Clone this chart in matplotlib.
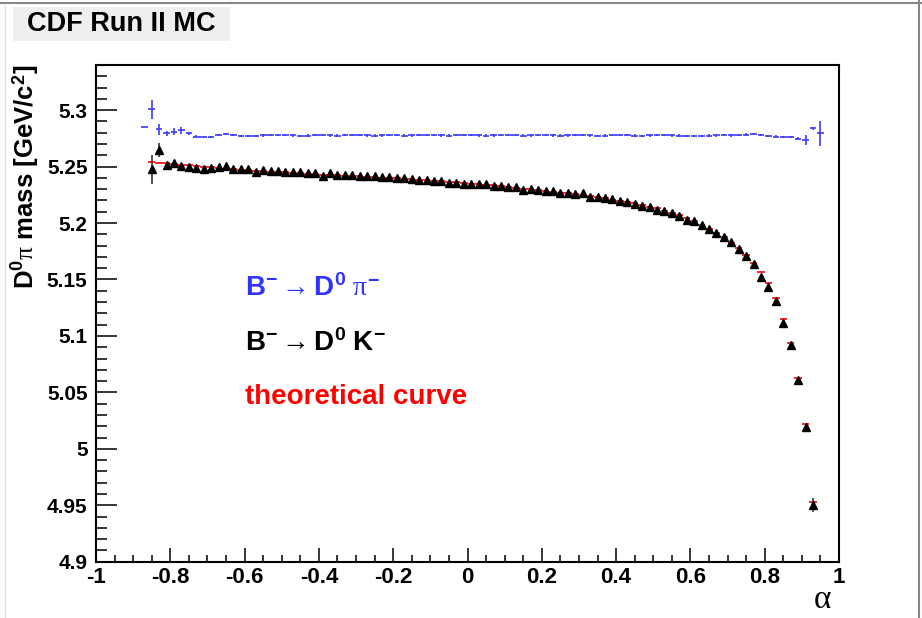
import numpy as np
import matplotlib
matplotlib.use('Agg')
import matplotlib.pyplot as plt
from matplotlib.ticker import MultipleLocator
from matplotlib.patches import Rectangle
from matplotlib.lines import Line2D

plt.rcParams['font.family'] = ['Liberation Sans', 'DejaVu Sans']
plt.rcParams['mathtext.fontset'] = 'custom'
plt.rcParams['mathtext.rm'] = 'Liberation Sans:bold'
plt.rcParams['mathtext.bf'] = 'Liberation Sans:bold'
plt.rcParams['mathtext.it'] = 'Liberation Serif'

# B -> D0 pi (blue), bins of 0.02 starting at -0.87
pi_start = -0.87
pi_mass = [5.2852, 5.3006, 5.2829, 5.2794, 5.2808, 5.2823, 5.2794, 5.2766, 5.2760, 5.2764,
           5.2780, 5.2790, 5.2782, 5.2772, 5.2772, 5.2773, 5.2776, 5.2778, 5.2780, 5.2779,
           5.2776, 5.2774, 5.2775, 5.2777, 5.2778, 5.2776, 5.2775, 5.2777, 5.2779, 5.2778,
           5.2776, 5.2775, 5.2776, 5.2778, 5.2777, 5.2775, 5.2776, 5.2778, 5.2779, 5.2777,
           5.2776, 5.2775, 5.2777, 5.2778, 5.2777, 5.2776, 5.2775, 5.2776, 5.2778, 5.2779,
           5.2777, 5.2775, 5.2776, 5.2777, 5.2778, 5.2776, 5.2775, 5.2776, 5.2777, 5.2778,
           5.2776, 5.2774, 5.2775, 5.2777, 5.2778, 5.2777, 5.2775, 5.2774, 5.2776, 5.2778,
           5.2777, 5.2776, 5.2775, 5.2774, 5.2773, 5.2774, 5.2775, 5.2776, 5.2778, 5.2776,
           5.2778, 5.2784, 5.2787, 5.2778, 5.2770, 5.2766, 5.2765, 5.2764, 5.2749, 5.2734,
           5.2838, 5.2794]
pi_err = [0.0, 0.0084, 0.0045, 0.002, 0.003, 0.003, 0.0015] + [0.001] * 82 + [0.0044, 0.0015, 0.0108]

# B -> D0 K (black), bins of 0.02 starting at -0.85
k_start = -0.85
k_mass = [5.2475, 5.2646, 5.2513, 5.2528, 5.2507, 5.2498, 5.2492, 5.2483, 5.2492, 5.2498,
          5.2507, 5.2483, 5.2483, 5.2483, 5.2454, 5.2469, 5.2460, 5.2460, 5.2450, 5.2448,
          5.2448, 5.2439, 5.2445, 5.2415, 5.2439, 5.2424, 5.2424, 5.2424, 5.2418, 5.2418,
          5.2415, 5.2409, 5.2409, 5.2401, 5.2395, 5.2386, 5.2380, 5.2380, 5.2371, 5.2371,
          5.2356, 5.2356, 5.2350, 5.2347, 5.2344, 5.2342, 5.2330, 5.2330, 5.2321, 5.2315,
          5.2297, 5.2300, 5.2297, 5.2285, 5.2283, 5.2268, 5.2268, 5.2256, 5.2262, 5.2233,
          5.2227, 5.2224, 5.2209, 5.2197, 5.2188, 5.2173, 5.2149, 5.2144, 5.2114, 5.2105,
          5.2085, 5.2061, 5.2031, 5.2017, 5.1981, 5.1944, 5.1908, 5.1872, 5.1831, 5.1769,
          5.1709, 5.1636, 5.1518, 5.1435, 5.1311, 5.1116, 5.0919, 5.0609, 5.0195, 4.9501]
k_err = [0.0127, 0.006] + [0.001] * 87 + [0.006]

# theoretical curve (red), same bins as black
theory = [5.2542, 5.2535, 5.2528, 5.2522, 5.2516, 5.2510, 5.2504, 5.2498, 5.2493, 5.2488,
          5.2483, 5.2478, 5.2473, 5.2468, 5.2464, 5.2460, 5.2456, 5.2452, 5.2448, 5.2444,
          5.2440, 5.2437, 5.2433, 5.2430, 5.2426, 5.2423, 5.2420, 5.2416, 5.2413, 5.2410,
          5.2406, 5.2403, 5.2399, 5.2396, 5.2392, 5.2388, 5.2384, 5.2380, 5.2376, 5.2372,
          5.2367, 5.2362, 5.2357, 5.2350, 5.2345, 5.2339, 5.2333, 5.2327, 5.2320, 5.2313,
          5.2306, 5.2300, 5.2293, 5.2286, 5.2278, 5.2270, 5.2262, 5.2254, 5.2245, 5.2236,
          5.2227, 5.2218, 5.2208, 5.2197, 5.2186, 5.2174, 5.2160, 5.2145, 5.2129, 5.2110,
          5.2090, 5.2067, 5.2042, 5.2014, 5.1983, 5.1949, 5.1912, 5.1872, 5.1827, 5.1776,
          5.1717, 5.1650, 5.1570, 5.1470, 5.1340, 5.1150, 5.0935, 5.0630, 5.0220, 4.9530]

bin_w = 0.02
x_pi = np.round(pi_start + bin_w * np.arange(len(pi_mass)), 2)
x_k = np.round(k_start + bin_w * np.arange(len(k_mass)), 2)

fig = plt.figure(figsize=(9.22, 6.18), dpi=100)
ax = fig.add_axes([0.1041, 0.0911, 0.8059, 0.8037])

ax.errorbar(x_k, theory, xerr=bin_w / 2, fmt='none', ecolor='#ff0000', elinewidth=1.2, zorder=2)
ax.errorbar(x_pi, pi_mass, xerr=0.009, yerr=pi_err, fmt='none', ecolor='#3b3bff',
            elinewidth=1.2, zorder=3)
ax.errorbar(x_k, k_mass, yerr=k_err, fmt='^', color='black', ms=6, ecolor='#333333',
            elinewidth=1.2, zorder=4)

ax.set_xlim(-1, 1)
ax.set_ylim(4.9, 5.34)
ax.xaxis.set_major_locator(MultipleLocator(0.2))
ax.xaxis.set_minor_locator(MultipleLocator(0.05))
ax.yaxis.set_major_locator(MultipleLocator(0.05))
ax.yaxis.set_minor_locator(MultipleLocator(0.01))
ax.tick_params(axis='both', which='both', direction='in', top=False, right=False)
ax.tick_params(axis='y', which='major', length=15, width=1.1)
ax.tick_params(axis='y', which='minor', length=8, width=1.1)
ax.tick_params(axis='x', which='major', length=10, width=1.1)
ax.tick_params(axis='x', which='minor', length=5, width=1.1)
ax.tick_params(axis='y', pad=6)
ax.tick_params(axis='x', pad=4)
ax.yaxis.set_major_formatter(plt.FuncFormatter(lambda v, p: ('%g' % round(v, 3))))
ax.xaxis.set_major_formatter(plt.FuncFormatter(lambda v, p: ('%g' % round(v, 3))))
for lab in ax.get_yticklabels():
    lab.set_fontsize(15)
    lab.set_fontweight('bold')
for lab in ax.get_xticklabels():
    lab.set_fontsize(16)
    lab.set_fontweight('bold')
for s in ax.spines.values():
    s.set_linewidth(1.5)

ax.set_ylabel(r'$\mathbf{D^{0}}\pi$ mass [GeV/c$^{\mathbf{2}}$]', fontsize=18.5,
              fontweight='bold', loc='top')
ax.yaxis.set_label_coords(-0.073, 1.0)
ax.text(0.977, -0.077, r'$\alpha$', transform=ax.transAxes, fontsize=24,
        ha='center', va='center')

ax.text(-0.6, 5.142, r'$\mathbf{B^{-}\rightarrow D^{0}}\ \pi^{-}$', color='#3333ff',
        fontsize=20, va='center')
ax.text(-0.6, 5.094, r'$\mathbf{B^{-}\rightarrow D^{0}\ K^{-}}$', color='black',
        fontsize=20, va='center')
ax.text(-0.6, 5.046, 'theoretical curve', color='#ff0000', fontsize=20,
        fontweight='bold', va='center')

# title box and canvas frame
fig.add_artist(Rectangle((0.0141, 0.934), 0.2354, 0.0545, transform=fig.transFigure,
                         facecolor='#efefef', edgecolor='none'))
fig.text(0.0293, 0.9615, 'CDF Run II MC', fontsize=19.5, fontweight='bold', va='center')
fig.add_artist(Line2D([0, 1], [0.995, 0.995], transform=fig.transFigure, color='#888888', lw=1.5))
fig.add_artist(Line2D([0.9967, 0.9967], [0, 1], transform=fig.transFigure, color='#888888', lw=1.5))
fig.add_artist(Line2D([0.005, 0.005], [0, 0.99], transform=fig.transFigure, color='#e0e0e0', lw=1))

fig.savefig('out.png', dpi=100)
